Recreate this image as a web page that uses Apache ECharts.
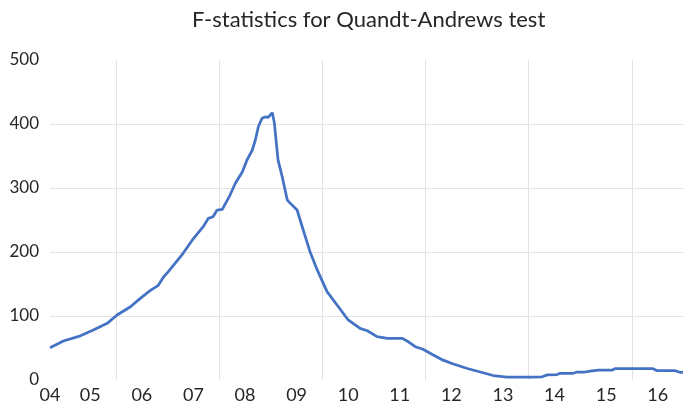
<!DOCTYPE html>
<html>
<head>
<meta charset="utf-8">
<script src="https://cdn.jsdelivr.net/npm/echarts@6/dist/echarts.min.js"></script>
<style>
  html, body { margin: 0; padding: 0; background: #fff; }
  #main { width: 685px; height: 412px; }
</style>
</head>
<body>
<div id="main"></div>
<script>
// time in years (decimal)
var t = [2004.22, 2004.48, 2004.81, 2005.06, 2005.33, 2005.52, 2005.78, 2005.97, 2006.16, 2006.32,
  2006.42, 2006.51, 2006.80, 2007.00, 2007.19, 2007.29, 2007.38, 2007.46, 2007.56, 2007.71,
  2007.81, 2007.95, 2008.04, 2008.14, 2008.20, 2008.26, 2008.33, 2008.39, 2008.45, 2008.53,
  2008.57, 2008.64, 2008.72, 2008.82, 2008.88, 2009.01, 2009.13, 2009.26, 2009.40, 2009.59,
  2009.81, 2010.00, 2010.23, 2010.37, 2010.56, 2010.76, 2011.05, 2011.14, 2011.30, 2011.45,
  2011.65, 2011.84, 2012.04, 2012.31, 2012.56, 2012.81, 2013.08, 2013.53, 2013.76, 2013.86,
  2014.05, 2014.11, 2014.36, 2014.44, 2014.59, 2014.69, 2014.85, 2015.12, 2015.17, 2015.91,
  2015.99, 2016.34, 2016.43, 2016.49];
// F-statistic values
var fstat = [50.5, 61, 69, 78, 88.5, 101.6, 114.5, 127.6, 139.6, 148,
  161, 169, 198, 221, 239.5, 252.6, 255, 265.6, 266.6, 289,
  307, 325.5, 344, 359, 375, 396, 409, 411, 410.5, 417.7,
  401, 344, 318, 281, 276, 265.6, 234, 200.5, 172, 138,
  114.5, 93.8, 80.7, 77, 67.7, 65, 65, 61, 52, 48,
  39, 31, 25, 18, 12.5, 7, 4.5, 4.5, 5, 8,
  8.5, 10.5, 10.5, 12.5, 12.5, 14, 15.6, 15.6, 17.7, 17.7,
  14.5, 14.5, 12, 12];

// x axis labels and where they sit
var tickLabels = ['04', '05', '06', '07', '08', '09', '10', '11', '12', '13', '14', '15', '16'];
var tickAt = [2004.22, 2005, 2006, 2007, 2008, 2009, 2010, 2011, 2012, 2013, 2014, 2015, 2016];
// vertical gridlines
var gridAt = [2005.5, 2007.5, 2009.5, 2011.5, 2013.5, 2015.5];

var chart = echarts.init(document.getElementById('main'), null, { renderer: 'canvas' });

var option = {
  backgroundColor: '#ffffff',
  animation: false,
  title: {
    text: 'F-statistics for Quandt-Andrews test',
    left: 187,
    top: 4,
    textStyle: {
      fontFamily: 'Lato',
      fontSize: 22,
      fontWeight: 'normal',
      color: '#262626'
    }
  },
  grid: {
    left: 50,
    right: 2,
    top: 60,
    bottom: 32
  },
  xAxis: {
    type: 'value',
    min: 2004.22,
    max: 2016.49,
    axisLine: { show: false },
    axisTick: { show: false, customValues: gridAt },
    axisLabel: {
      customValues: tickAt,
      margin: 6,
      fontFamily: 'Lato',
      fontSize: 18,
      color: '#262626',
      formatter: function (v) {
        var i = tickAt.indexOf(v);
        return i >= 0 ? tickLabels[i] : '';
      }
    },
    splitLine: {
      show: true,
      lineStyle: { color: '#e3e3e3', width: 1 }
    }
  },
  yAxis: {
    type: 'value',
    min: 0,
    max: 500,
    interval: 100,
    axisLine: { show: false },
    axisTick: { show: false },
    axisLabel: {
      margin: 11,
      fontFamily: 'Lato',
      fontSize: 17,
      color: '#262626'
    },
    splitLine: {
      show: true,
      showMinLine: false,
      showMaxLine: false,
      lineStyle: { color: '#e3e3e3', width: 1 }
    }
  },
  series: [
    {
      type: 'line',
      showSymbol: false,
      data: t.map(function (x, i) { return [x, fstat[i]]; }),
      lineStyle: { color: '#4472c4', width: 2.75 },
      itemStyle: { color: '#4472c4' }
    }
  ]
};

chart.setOption(option);
</script>
</body>
</html>
